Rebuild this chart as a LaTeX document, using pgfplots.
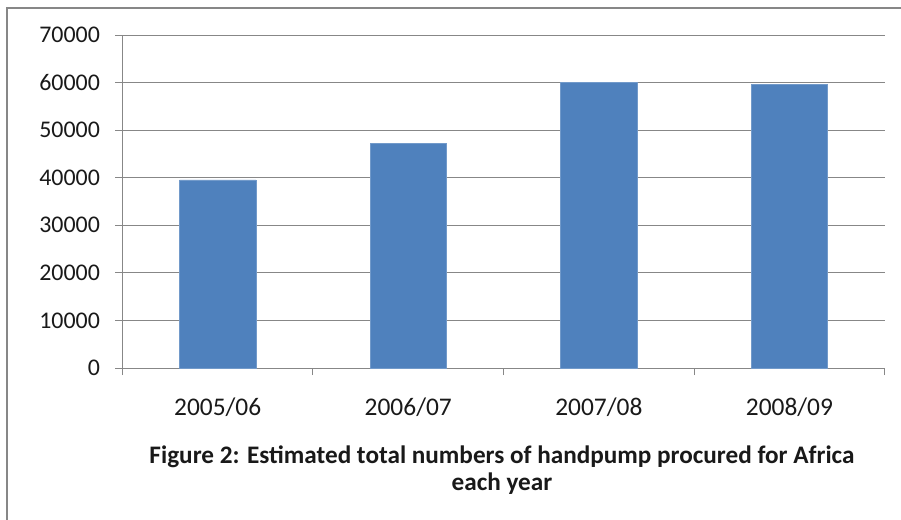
\documentclass[border=0pt]{standalone}
\usepackage{pgfplots}
\pgfplotsset{compat=1.18}
\usepackage{fontspec}
\setmainfont{Carlito}
\definecolor{barblue}{HTML}{4F81BD}
\definecolor{gridgray}{HTML}{878787}
\begin{document}
\begin{tikzpicture}
\useasboundingbox (0bp,0bp) rectangle (901bp,-520bp);
\draw[gridgray, line width=2bp] (7bp,-522bp) -- (7bp,-8bp) -- (903bp,-8bp);
\begin{axis}[
  at={(122.4bp,-368bp)}, anchor=south west,
  width=762.3bp, height=333bp, scale only axis,
  xmin=-0.5, xmax=3.5, ymin=0, ymax=70000,
  ytick={0,10000,...,70000}, scaled y ticks=false,
  ymajorgrids, grid style={gridgray, line width=1bp},
  axis x line=bottom, axis y line=left,
  axis line style={gridgray, line width=1bp, -},
  tick align=outside, major tick length=7bp,
  tick style={gridgray, line width=1bp},
  xtick={-0.5,0.5,1.5,2.5,3.5}, xticklabels={},
  extra x ticks={0,1,2,3},
  extra x tick labels={2005/06,2006/07,2007/08,2008/09},
  extra x tick style={major tick length=0pt, grid=none,
     xticklabel style={yshift=-26bp, font=\fontsize{25.5}{28}\selectfont}},
  /pgf/number format/.cd, 1000 sep={}, assume math mode=true,
  /pgfplots/.cd,
  ticklabel style={font=\fontsize{24}{28}\selectfont, text=black!90},
  yticklabel style={xshift=-12bp},
  clip=false,
]
\addplot[ybar, bar width=0.4, fill=barblue, draw=barblue!80!white, line width=0.6bp]
  coordinates {(0,39550) (1,47150) (2,60050) (3,59600)};
\end{axis}
\node[align=center, font=\bfseries\fontsize{25.3}{26.5}\selectfont, text=black!90] at (502bp,-470bp)
  {Figure 2: Estimated total numbers of handpump procured for Africa\\each year};
\end{tikzpicture}
\end{document}
